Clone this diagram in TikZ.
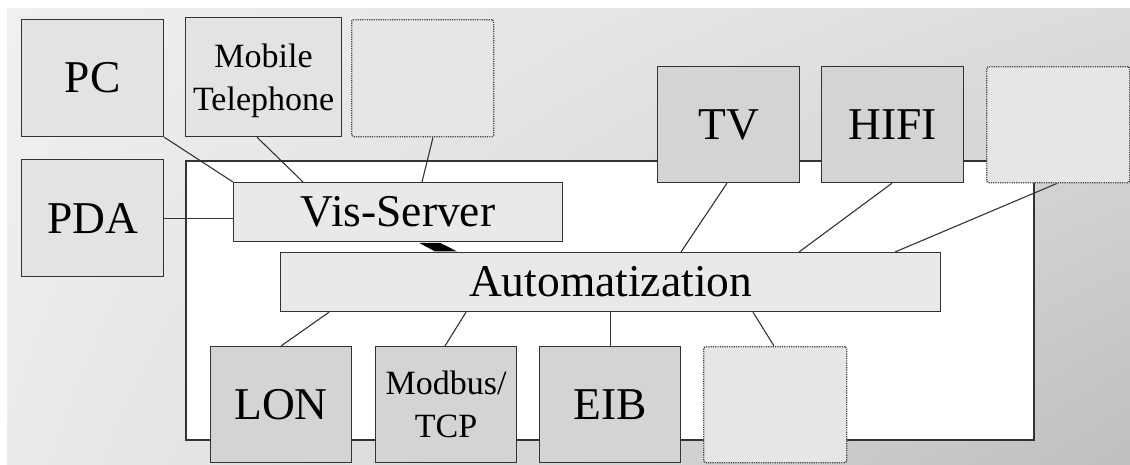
\documentclass[tikz,border=0pt]{standalone}
\usepackage{fontspec}
\setmainfont{Liberation Serif}
\usetikzlibrary{calc,shadings}
\definecolor{bgTL}{HTML}{F0F0F0}
\definecolor{bgTR}{HTML}{DCDCDC}
\definecolor{bgBL}{HTML}{EBEBEB}
\definecolor{bgBR}{HTML}{BFBFBF}
\definecolor{edge}{HTML}{333333}
\definecolor{devfill}{HTML}{E3E3E3}
\definecolor{srvfill}{HTML}{E9E9E9}
\definecolor{busfill}{HTML}{D4D4D4}
\definecolor{emptyfill}{HTML}{E6E6E6}
\definecolor{dotedge}{HTML}{444444}
\tikzset{
  box/.style={draw=edge, line width=1.2pt, anchor=north west, inner sep=0pt,
    font=\fontsize{45.5}{50}\selectfont, align=center},
  smalltext/.style={font=\fontsize{34}{43}\selectfont},
  devbox/.style={box, fill=devfill},
  srvbox/.style={box, fill=srvfill},
  busbox/.style={box, fill=busfill},
  emptybox/.style={box, draw=dotedge, fill=emptyfill, line width=1.4pt, dash pattern=on 1.2pt off 1.1pt, rounded corners=1.5pt},
  link/.style={draw=edge, line width=1.1pt},
}
\begin{document}
\begin{tikzpicture}[x=1pt, y=-1pt]
\useasboundingbox (0,0) rectangle (1130,464);
\fill[white] (0,0) rectangle (1130,464);
\shade[upper left=bgTL, upper right=bgTR, lower left=bgBL, lower right=bgBR] (7,8) rectangle (1130,464);
% house area
\node[draw=edge, line width=1.6pt, fill=white, anchor=north west, inner sep=0pt,
  minimum width=848pt, minimum height=279pt] (house) at (185,160) {};
% top-left devices
\node[devbox, minimum width=142pt, minimum height=117pt] (pc) at (21,19) {PC};
\node[devbox, smalltext, text depth=0pt, minimum width=156pt, minimum height=119pt] (mobile) at (185,17) {Mobile\\Telephone};
\node[emptybox, minimum width=142pt, minimum height=117pt] (dot1) at (351,19) {};
\node[devbox, minimum width=142pt, minimum height=117pt] (pda) at (21,159) {PDA};
% servers
\node[srvbox, minimum width=329pt, minimum height=59pt] (vis) at (233,182) {Vis-Server};
\node[srvbox, minimum width=660pt, minimum height=59pt] (auto) at (280,252) {Automatization};
% top-right appliances
\node[busbox, minimum width=142pt, minimum height=116pt] (tv) at (657,66) {TV};
\node[busbox, minimum width=142pt, minimum height=116pt] (hifi) at (821,66) {HIFI};
\node[emptybox, minimum width=143pt, minimum height=116pt] (dot3) at (986,66) {};
% field buses
\node[busbox, minimum width=141pt, minimum height=116pt] (lon) at (210,346) {LON};
\node[busbox, smalltext, minimum width=141pt, minimum height=116pt] (modbus) at (375,346) {Modbus/\\TCP};
\node[busbox, minimum width=141pt, minimum height=116pt] (eib) at (539,346) {EIB};
\node[emptybox, minimum width=143pt, minimum height=116pt] (dot4) at (703,346) {};
% connectors
\draw[link] (pc.south east) -- (vis.north west);
\draw[link] ($(mobile.south west)+(72,0)$) -- ($(vis.north west)+(70,0)$);
\draw[link] ($(dot1.south west)+(82,0)$) -- ($(vis.north west)+(189,0)$);
\draw[link] (pda.east) -- (vis.west |- pda.east);
\draw[link] ($(tv.south west)+(70,0)$) -- ($(auto.north west)+(401,0)$);
\draw[link] ($(hifi.south west)+(71,0)$) -- ($(auto.north west)+(519,0)$);
\draw[link] ($(dot3.south west)+(71,0)$) -- ($(auto.north west)+(615,0)$);
\draw[link] ($(auto.south west)+(49,0)$) -- ($(lon.north west)+(71,0)$);
\draw[link] ($(auto.south west)+(186,0)$) -- ($(modbus.north west)+(70,0)$);
\draw[link] (eib.north |- auto.south) -- (eib.north);
\draw[link] ($(auto.south west)+(473,0)$) -- ($(dot4.north west)+(71,0)$);
% thick link between Vis-Server and Automatization
\fill[black] ($(vis.south west)+(186,0.6)$) -- ($(vis.south west)+(207,0.6)$)
  -- ($(auto.north west)+(177,-0.6)$) -- ($(auto.north west)+(155,-0.6)$) -- cycle;
\end{tikzpicture}
\end{document}
